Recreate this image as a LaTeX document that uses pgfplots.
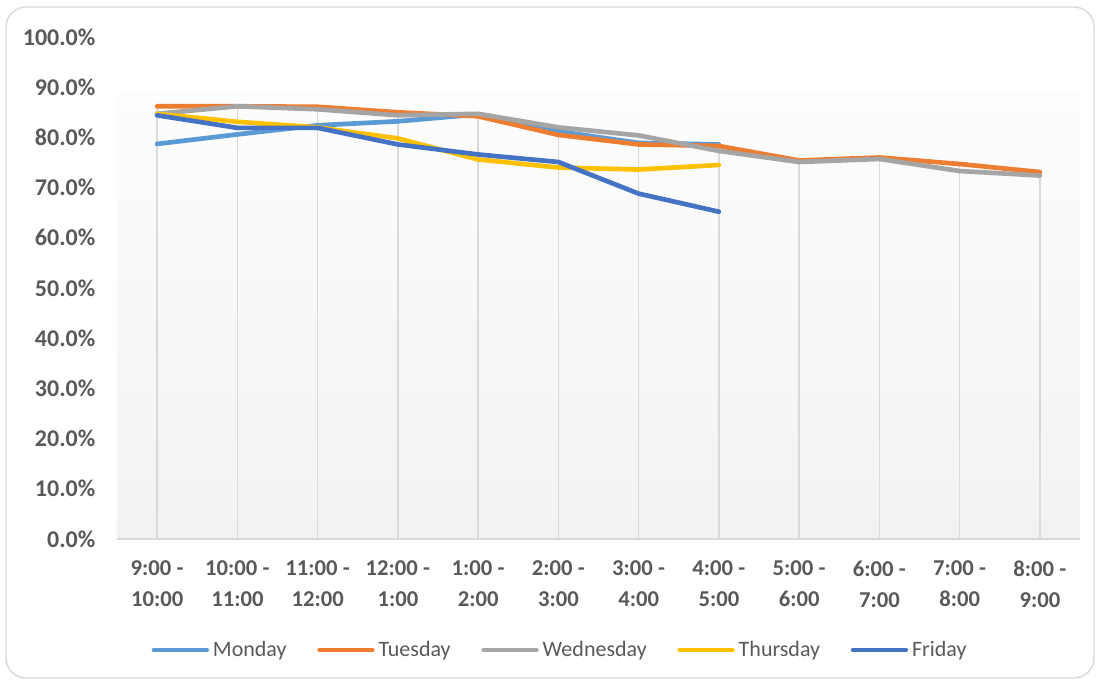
\documentclass[border=0pt]{standalone}
\usepackage{pgfplots}
\pgfplotsset{compat=1.18}
\usepackage{fontspec}
\setmainfont{Carlito}
\definecolor{cMon}{HTML}{5B9BD5}
\definecolor{cTue}{HTML}{ED7D31}
\definecolor{cWed}{HTML}{A5A5A5}
\definecolor{cThu}{HTML}{FFC000}
\definecolor{cFri}{HTML}{4472C4}
\definecolor{txt}{HTML}{595959}
\definecolor{gridc}{HTML}{D9D9D9}
\definecolor{bgtop}{HTML}{FDFDFD}
\definecolor{bgbot}{HTML}{F2F2F2}
\begin{document}
\begin{tikzpicture}
\begin{axis}[
  at={(0,0)}, anchor=south west,
  scale only axis,
  width=722.25pt, height=376.5pt,
  xmin=-0.5, xmax=11.5, ymin=0, ymax=100,
  xtick={0,1,2,3,4,5,6,7,8,9,10,11},
  xticklabels={{9:00 -\\10:00},{10:00 -\\11:00},{11:00 -\\12:00},{12:00 -\\1:00},{1:00 -\\2:00},{2:00 -\\3:00},{3:00 -\\4:00},{4:00 -\\5:00},{5:00 -\\6:00},{6:00 -\\7:00},{7:00 -\\8:00},{8:00 -\\9:00}},
  ytick={0,10,20,30,40,50,60,70,80,90,100},
  yticklabels={0.0\%,10.0\%,20.0\%,30.0\%,40.0\%,50.0\%,60.0\%,70.0\%,80.0\%,90.0\%,100.0\%},
  major tick length=0pt,
  axis line style={draw=none},
  yticklabel style={font=\fontsize{18}{20}\selectfont\bfseries, color=txt, anchor=east, inner sep=0pt, xshift=-16pt},
  xticklabel style={font=\fontsize{17}{23.25}\selectfont\bfseries, color=txt, align=center, anchor=north, inner sep=0pt, yshift=-16pt},
  legend columns=5,
  legend style={at={(0.4605,-0.2211)}, anchor=center, draw=none, fill=none,
    font=\fontsize{16.5}{20}\selectfont, text=txt,
    /tikz/every even column/.append style={column sep=21pt},
    /tikz/every odd column/.append style={column sep=1pt}},
  legend image code/.code={\draw[#1, line width=3pt, line cap=round] (0pt,0pt) -- (40pt,0pt);},
  every axis plot/.append style={line width=3.5pt, line join=round, line cap=round},
]
\path[bottom color=bgbot, top color=bgtop] (rel axis cs:0,0) rectangle (rel axis cs:1,0.888);
\addplot[ycomb, gridc, line width=1pt, line cap=butt, forget plot] coordinates {(0,86.2) (1,86.2) (2,86.1) (3,85.0) (4,84.7) (5,82.0) (6,80.4) (7,78.6) (8,75.4) (9,76.0) (10,74.7) (11,73.1)};
\draw[gridc, line width=1.5pt] (rel axis cs:0,0) -- (rel axis cs:1,0);
\addplot[cMon] coordinates {(0,78.7) (1,80.6) (2,82.4) (3,83.2) (4,84.6) (5,81.2) (6,78.9) (7,78.6)};
\addplot[cTue] coordinates {(0,86.2) (1,86.2) (2,86.1) (3,85.0) (4,84.2) (5,80.5) (6,78.6) (7,78.3) (8,75.4) (9,76.0) (10,74.7) (11,73.1)};
\addplot[cWed] coordinates {(0,84.7) (1,86.2) (2,85.6) (3,84.4) (4,84.7) (5,82.0) (6,80.4) (7,77.3) (8,75.1) (9,75.7) (10,73.3) (11,72.4)};
\addplot[cThu] coordinates {(0,84.7) (1,83.1) (2,82.0) (3,79.8) (4,75.6) (5,74.0) (6,73.6) (7,74.5)};
\addplot[cFri] coordinates {(0,84.4) (1,81.9) (2,81.9) (3,78.6) (4,76.6) (5,75.1) (6,68.8) (7,65.2)};
\legend{Monday,Tuesday,Wednesday,Thursday,Friday}
\end{axis}
\draw[gridc, line width=1.1pt, rounded corners=15pt] (-83.25pt,-104.25pt) rectangle (732.75pt,399pt);
\pgfresetboundingbox
\path[use as bounding box] (-87.75pt,-108pt) rectangle (734.25pt,404.25pt);
\end{tikzpicture}
\end{document}
